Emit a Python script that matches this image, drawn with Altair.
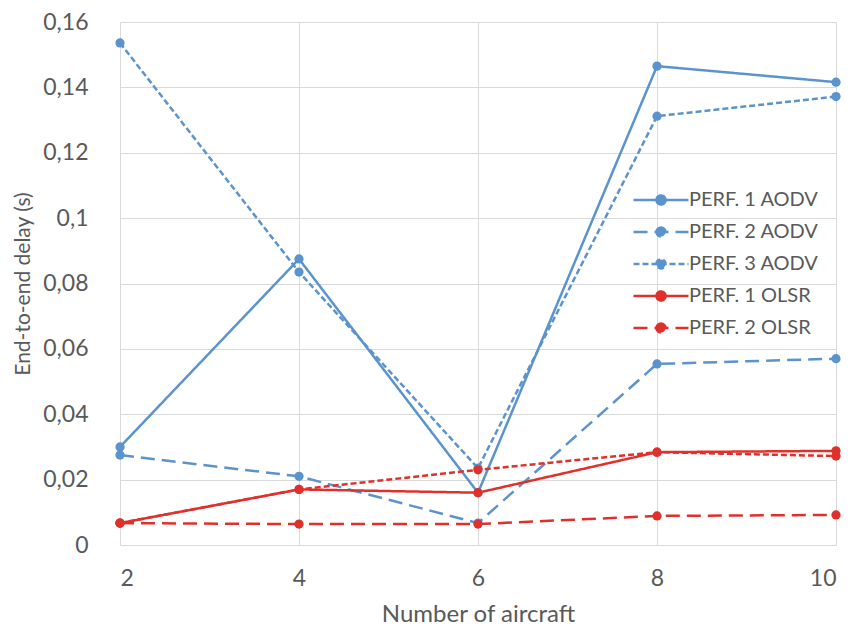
import altair as alt
import pandas as pd

aircraft = [2, 4, 6, 8, 10]
series_names = ["PERF. 1 AODV", "PERF. 2 AODV", "PERF. 3 AODV",
                "PERF. 1 OLSR", "PERF. 2 OLSR", "PERF. 3 OLSR"]
perf1_aodv = [0.0300, 0.0875, 0.0160, 0.1465, 0.1416]
perf2_aodv = [0.0275, 0.0210, 0.0067, 0.0554, 0.0570]
perf3_aodv = [0.1536, 0.0835, 0.0235, 0.1312, 0.1372]
perf1_olsr = [0.0067, 0.0170, 0.0160, 0.0284, 0.0288]
perf2_olsr = [0.0067, 0.0064, 0.0064, 0.0089, 0.0092]
perf3_olsr = [0.0067, 0.0170, 0.0230, 0.0284, 0.0272]
y_ticks = [0, 0.02, 0.04, 0.06, 0.08, 0.1, 0.12, 0.14, 0.16]

values = [perf1_aodv, perf2_aodv, perf3_aodv, perf1_olsr, perf2_olsr, perf3_olsr]
rows = []
for name, vals in zip(series_names, values):
    for x, v in zip(aircraft, vals):
        rows.append({"aircraft": x, "series": name, "delay": v})
df = pd.DataFrame(rows)

blue = "#5b93cc"
red = "#e0302c"
colors = [blue, blue, blue, red, red, red]
dashes = [[1, 0], [14, 7], [6, 3], [1, 0], [14, 7], [6, 3]]

font = "Lato"
gray = "#595959"

color_enc = alt.Color(
    "series:N",
    scale=alt.Scale(domain=series_names, range=colors),
    legend=alt.Legend(
        title=None,
        values=series_names[:5],
        orient="none",
        legendX=526,
        legendY=163,
        symbolType="M-2,0H2M-0.33,0A0.33,0.33,0,1,1,0.33,0A0.33,0.33,0,1,1,-0.33,0Z",
        symbolSize=756,
        symbolStrokeWidth=2.5,
        rowPadding=7,
        labelFont=font,
        labelFontSize=20,
        labelColor=gray,
        labelOffset=13,
    ),
)
dash_enc = alt.StrokeDash("series:N",
                          scale=alt.Scale(domain=series_names, range=dashes))

x_enc = alt.X(
    "aircraft:Q",
    scale=alt.Scale(domain=[2, 10], nice=False),
    axis=alt.Axis(
        values=aircraft, title="Number of aircraft", tickSize=0, domain=False,
        labelFont=font, labelFontSize=23, labelColor=gray, labelPadding=22,
        titleFont=font, titleFontSize=24, titleColor=gray, titleFontWeight="normal",
        titlePadding=12, gridColor="#d9d9d9",
    ),
)
y_enc = alt.Y(
    "delay:Q",
    scale=alt.Scale(domain=[0, 0.16], nice=False),
    axis=alt.Axis(
        values=y_ticks, title="End-to-end delay (s)", tickSize=0, domain=False,
        labelExpr="replace(format(datum.value, '.2~f'), '.', ',')",
        labelFont=font, labelFontSize=23, labelColor=gray, labelPadding=32,
        titleFont=font, titleFontSize=21, titleColor=gray, titleFontWeight="normal",
        titlePadding=9, gridColor="#d9d9d9",
    ),
)

base = alt.Chart(df)
lines = base.mark_line(strokeWidth=2.5).encode(
    x=x_enc, y=y_enc, color=color_enc, strokeDash=dash_enc,
)
points = base.mark_point(filled=True, size=85, opacity=1).encode(
    x=x_enc, y=y_enc, color=color_enc, strokeDash=dash_enc,
)

chart = alt.layer(lines, points).properties(
    width=716, height=523,
    autosize=alt.AutoSizeParams(type="none"),
    padding={"left": 112, "top": 14, "right": 9, "bottom": 83},
).configure_view(stroke=None)

chart.save("out.html", embed_options={"renderer": "svg", "actions": False})
